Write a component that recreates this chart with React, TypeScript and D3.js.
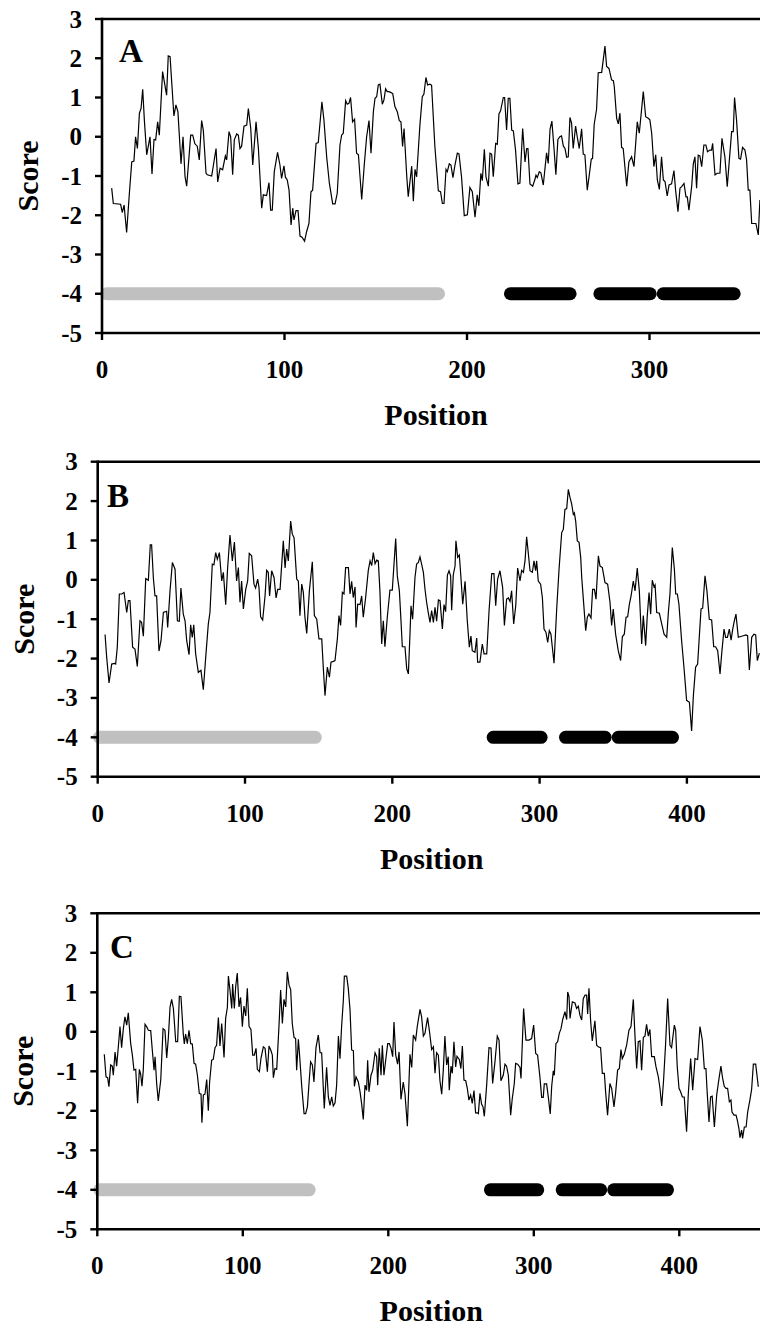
import React from "react";
import * as d3 from "d3";

// ---------- Panel A ----------
const posA = [5.3,6.2,10.2,11.1,12.1,13.5,15,16.3,17.5,18.4,19.4,20.5,21.4,22.3,23.2,24.5,26.3,27.4,28.5,29.4,30.5,31.4,33.2,35.4,36.3,37.3,39.4,40.5,41.6,43.3,44.4,45.5,46.4,48.6,49.7,50.9,52.2,53.3,54.6,55.5,57,57.7,60.1,62.5,63.4,64.7,66.1,67.6,68.3,69.6,70.5,71.6,72.5,73.8,74.7,75.6,76.5,77.8,79.3,80.2,81.5,82.6,84.4,85.7,87.5,88.4,90.2,91.5,92.4,93.3,94.4,96.2,97.5,98.4,99.7,100.5,101.5,102.5,103.6,104.5,105.2,106.3,107.4,108.5,109.6,111,112.1,113.4,114.5,115.4,117.3,118.5,120.5,121.6,123.1,124.6,126.4,127.7,128.9,130.4,131.3,132.2,133.5,134.4,135.3,136.2,137.3,138.4,139.5,140.5,142.3,143.7,145,146.3,147.4,148.7,149.6,150.5,151.4,152.3,153.6,154.5,155.4,156.3,157.1,158.2,159.3,160.5,161.8,162.9,163.8,164.7,165.5,167,167.8,169.7,170.6,171.5,172.4,174.2,175.5,176.4,177.5,178.4,179.7,180.6,182.4,184.3,185.5,186.5,187.4,188.5,189.2,190.3,191.2,192.3,193.4,194.7,195.6,197,198.5,200.2,201.6,202.9,204.4,205.6,206.5,207.6,208.4,209.5,210.4,211.7,212.6,213.5,214.4,215.7,216.6,217.5,218.4,219.9,220.6,221.7,222.6,223.5,224.5,225.4,226.6,227.9,229,230.5,231.8,232.7,233.4,234.5,236,237.2,237.8,238.5,239.6,240.5,241.8,243.6,244.5,245.5,246.5,247.6,248.7,249.8,250.9,251.8,252.8,253.7,254.6,255.5,256.4,257.3,258.2,259.5,260.4,261.5,262.8,263.7,264.6,265.9,267,268.1,268.8,269.7,271,271.9,273.8,275.6,276.5,277.8,279.2,280.2,280.7,282,282.9,283.8,284.7,285.6,287.5,288.7,290.2,291.5,293.3,294.4,296.6,297.9,299.3,300.2,301.2,302.4,303.4,304.3,305.4,306.6,307.6,308.5,309.7,310.7,312.1,313.4,314.3,315.6,316.7,317.6,318.9,320,320.7,321.6,323.1,324,324.9,325.8,326.7,327.6,328.6,329.8,330.9,331.8,333.1,334,334.6,335.9,337.1,338.6,339.7,341.3,342.6,345,345.9,346.6,347.7,349,349.9,351,352.3,353.2,354.1,355,356,358.3,359.6,360.5];
const scoreA = [-1.31,-1.7,-1.72,-1.93,-1.74,-2.44,-1.44,-0.64,-0.62,0,-0.3,0.6,0.72,1.21,0.43,-0.46,0,-0.95,-0.07,-0.08,0.38,0.04,1.66,1.06,2.06,2.04,0.53,0.81,0.64,-0.69,0,-1.02,-1.26,0.04,0.04,-0.18,-0.24,-0.59,0.41,0.17,-0.93,-0.97,-1,-0.3,-1.15,-0.8,-0.84,-0.49,-0.59,0.13,0,-0.97,-0.08,0.07,0.04,-0.3,-0.24,0.27,0.3,0.72,0.21,-0.72,0.38,-0.3,-1.82,-1.48,-1.5,-1.17,-1.87,-1.87,-0.89,-0.4,-0.72,-1.06,-0.74,-1.03,-1.1,-1.36,-2.25,-1.82,-2.12,-1.88,-1.88,-2.53,-2.56,-2.66,-2.42,-2.21,-1.4,-1.36,-0.17,-0.15,0.89,0.43,-0.51,-1.19,-1.71,-1.71,-1.44,-0.21,0.04,0.09,0.92,0.83,0.85,1,0.38,0.45,-0.42,-0.46,-1.6,-0.72,0,0.41,-0.42,0.64,0.98,1.02,1.32,1.34,0.83,0.94,1.22,1.15,1.15,1.13,1.1,0.77,0.64,0.41,0.38,-0.25,0.21,-1.02,-1.53,-0.75,-1.64,-0.83,-1.02,0.3,1.02,1.09,1.51,1.32,1.34,1.31,-0.25,-1.38,-1.4,-1.7,-1.7,-0.83,-0.89,-0.69,-0.72,-1.04,-0.72,-0.42,-0.44,-1.02,-2.01,-1.99,-1.29,-1.4,-2.05,-1.48,-1.76,-0.93,-1.12,-0.32,-1.02,-1.26,-0.42,-0.44,-1.02,-0.17,-0.19,0.58,0.66,1,1,0.17,0.98,0.98,0.17,0.15,-0.34,-1.2,-1.18,0.21,-0.64,-0.3,-0.3,-1.2,-1.26,-1.09,-0.98,-1.04,-0.89,-0.92,-1.23,-0.41,-0.68,0.19,0.4,-0.25,-0.97,-0.07,0,0.02,-0.24,-0.3,-0.52,-0.51,0.49,0.35,-0.3,0.27,0,-0.3,0.2,-0.44,-0.46,-1.36,-0.97,-0.57,-0.55,0.32,0.7,1.63,1.64,2.31,1.79,1.74,1.45,1.43,1.28,0.47,0.33,0.6,-0.27,-0.3,-1.26,-0.64,-0.51,-0.76,0.38,0.09,1.15,0.51,0.47,0.43,0.09,-0.76,-0.46,-1.1,-1.34,-0.51,-1.1,-1.14,-1.51,-1.23,-1.2,-0.86,-1.36,-1.91,-1.31,-1.27,-1.19,-1.53,-1.53,-1.87,-1.27,-0.69,-0.51,-1.31,-0.47,-0.49,-0.76,-0.21,-0.21,-0.38,-0.34,-0.34,-0.17,-0.97,-0.93,-0.93,-0.04,-0.51,-1.27,0.13,0.13,1,0.43,-0.55,-0.57,-0.27,-0.34,-0.59,-1.36,-1.36,-2.21,-2.21,-2.5,-1.61];
const greyA = [[2.5, 184.4]];
const blackA = [[223.8, 256.5], [272.8, 300.4], [307.5, 346.4]];

// ---------- Panel B ----------
const posB = [5,6.1,7.7,9.5,11.3,12.2,13.3,14.7,16.3,17.9,19.7,20.8,21.9,23.7,25.3,26.9,28.7,29.8,31,32.6,34.4,35.7,36.6,37.8,38.9,40,41.6,43,44.6,45.7,46.8,47.5,49.1,50.7,52.5,54.1,55.4,56.5,58.1,59.3,60.4,62,63.1,64.2,65.2,66.5,68.3,70.1,71.7,73.5,75.1,76.2,77.8,78.9,80.1,81.2,82.6,84.2,85.3,86.9,88.2,89.8,91.4,92.8,94.3,95.5,96.6,97.7,98.9,100.5,101.8,102.9,104.5,106.1,107.2,108.6,109.5,110.6,112,113.6,114.7,115.8,116.7,118.1,119.7,121.1,122.2,123.8,126,127.2,128.3,129.4,131,132.1,133.3,135.1,136.2,137.3,138.5,139.6,140.7,141.9,143.7,145.7,147.1,148.7,150.2,152.1,153.2,154.3,155.9,157.3,158.4,160,161.1,162.7,163.8,164.9,166.1,167.2,168.3,170.2,171.3,172.4,173.5,174.7,175.4,176.5,178.1,179.2,180.3,181.9,183.7,184.9,186,187.1,188.3,189.4,190.5,191.6,192.8,193.9,195,196.6,198.4,200,202.3,203.4,204.8,205.9,206.8,208.6,209.8,210.9,212,212.7,213.8,215.4,216.5,217.7,218.8,219.9,221.1,222.2,223.3,224.5,225.6,226.7,227.9,229,230.1,231.3,232.4,234,235.1,236.2,237.4,238.5,239.6,240.3,241.4,242.6,243.2,244.4,245.5,246.6,247.8,249.4,250.9,252.3,253.4,254.3,256.1,257.3,257.9,259.5,261.1,262.3,264.1,265.7,267.5,269,270.2,271.5,273.1,274.9,276.1,277.6,278.8,279.9,281,282.4,283.8,285.1,286.7,287.8,289,290.1,291.2,292.4,293.5,295.1,296.2,297.3,298,299.1,300.7,301.9,303,304.3,305.5,306.6,307.7,309.8,311.6,313.2,315,316.1,317.2,318.4,319.5,320.6,321.8,322.9,323.6,324.5,325.6,326.8,327.9,328.6,329.7,331.3,332.4,333.5,334.9,336,337.2,338.3,339.9,341,342.6,344.4,346.2,347.8,348.9,350,351.6,353.4,355,356.2,357.5,358.7,359.8,360.9,362.1,363.6,364.8,366.3,367.7,369.3,370.4,372,373.1,374.3,375.4,376.5,377.7,378.4,379.5,381.3,382.9,384.5,386.3,387.4,388.5,390.1,391.5,392.4,393.5,394.6,396.4,398,399.8,401.7,403.2,404.4,405.9,407.3,408.4,409.6,410.7,412.3,413.6,415.2,416.8,418.2,419.5,420.9,422.5,423.6,425.2,426.3,427.5,428.8,430,431.1,432.2,433.3,434.9,436.5,438.3,440,441.2,442.4,444,445.5,446.7,447.8,449.2];
const scoreB = [-1.39,-1.97,-2.62,-2.14,-2.12,-2.14,-1.71,-0.36,-0.36,-0.32,-0.83,-0.53,-0.53,-1.71,-1.76,-2.2,-1.04,-1.08,-1.43,0.03,-0.01,0.89,0.89,0.04,-0.41,-0.41,-1.81,-1.54,-0.83,-0.81,-0.8,-1.21,-0.28,0.44,0.27,-1.04,-1.05,-0.21,-0.87,-1.04,-1.54,-1.9,-1.14,-1.46,-1.14,-1.88,-2.35,-2.3,-2.79,-1.88,-1.12,-0.83,0.4,0.38,0.69,0.52,0.69,-0.03,0.19,-0.63,0.3,1.14,0.48,0.96,-0.03,0.31,-0.57,-0.03,-0.74,-0.24,-0.03,0.67,0.61,-0.11,-0.21,0.02,-0.19,-0.94,-1.02,-0.41,0.24,0.19,-0.41,0.23,0.06,-0.46,-0.24,-0.24,0.99,0.3,0.78,0.48,1.49,1.16,1.07,0.02,-0.03,-0.91,-0.11,-0.32,-0.95,-1.36,-0.28,0.46,-0.91,-1,-1.5,-1.5,-2.26,-2.94,-2.22,-2.47,-2.09,-2.07,-2.05,-1.5,-0.91,-1.16,-0.32,-0.36,0.31,0.31,-0.36,-0.04,-0.45,-0.18,-1.21,-0.62,-0.63,-0.41,-0.95,-0.45,0.24,0.48,0.36,0.69,0.41,0.5,0.48,-0.28,-1.63,-1.04,-1.7,-0.95,-0.26,-0.26,1.05,0.1,-0.28,-1.04,-1.7,-1.7,-2.26,-2.39,-1.38,-0.66,-1,0.06,0.4,0.44,0.58,0.4,0.19,-0.24,-0.57,-0.85,-1.08,-0.78,-1.08,-0.7,-1.05,-0.51,-0.53,-1.25,-0.63,-0.81,0.12,0.23,0.1,-0.77,0.13,0.35,0.99,0.57,0.63,0.06,-0.62,-0.04,-1.04,-1.71,-1.43,-1.8,-1.84,-1.48,-2.09,-2.09,-1.63,-1.88,-1.88,-0.78,0.16,0.16,-0.66,0.02,0.23,-0.19,-1.16,-0.49,-0.46,-0.55,-0.28,-1.12,-0.66,0.3,-0.03,0.24,0.19,0.48,1.09,0.65,0.23,0.19,0.48,0.23,0.48,-0.03,-0.11,-0.46,-1.25,-1.33,-1.59,-1.29,-1.38,-2.12,-0.74,0.27,1.2,1.28,1.79,1.81,2.3,2.1,1.92,1.66,1.7,1.49,0.99,0.95,0.57,0.06,-0.49,-1.29,-0.95,-0.87,-0.97,-0.24,-0.24,-0.49,0.61,0.35,0.31,-0.07,-0.11,-0.57,-1.16,-0.74,-1.38,-1.8,-2.05,-1.44,-1.38,-0.95,-0.94,-0.63,-0.41,-0.03,-0.28,0.3,-0.28,-1.63,-0.91,-1.67,-0.91,-0.32,-0.87,-0.01,-0.18,-0.13,-0.83,-0.85,-1.12,-1.38,-1.46,-0.83,-0.36,0.82,0.27,-0.36,-0.36,-0.62,-1.54,-2.22,-3.06,-3.11,-3.84,-2.94,-2.22,-2.14,-1.46,-0.74,-0.72,0.1,-0.28,-1,-1.02,-1.7,-1.7,-1.8,-2.39,-1.88,-1.25,-1.46,-1.46,-1.25,-1.53,-1.25,-1.04,-0.87,-1.46,-1.44,-1.42,-1.4,-1.42,-2.29,-1.46,-1.38,-1.4,-2.05,-1.86];
const greyB = [[1.2, 147.7]];
const blackB = [[268.5, 301], [317.6, 344.5], [353.4, 390.2]];

// ---------- Panel C ----------
const posC = [4.8,6,7.1,8,9.2,10.3,11,12.2,13.3,14.5,15.6,16.7,17.9,19,20.2,21.3,22.9,24.1,25.2,26.4,27.7,28.9,29.8,30.7,31.6,32.8,33.9,35.1,36.7,37.8,39,39.7,40.8,41.9,43.6,45.2,46.5,47.7,48.8,50,51.1,52.3,53.9,55.2,56.4,57.5,59.1,59.8,60.7,61.9,63,64.2,65.3,66.5,67.6,68.8,70.1,71.3,71.9,72.9,74,75.2,76.3,77.2,78.6,79.7,80.9,82,83.2,84.3,85.5,87.1,88.2,89.4,90.1,91.2,92.4,93,94.2,95.1,96.2,97.4,98.5,99.7,100.8,102,103.1,104.3,105.6,106.8,107.9,109.1,110,111.4,112.5,114.1,115.3,116.9,118,119.4,120.3,121,122.1,123.3,124.9,126,127.2,128.3,129.5,130.6,131.8,132.9,134,135.2,136.3,137,138.2,139.1,140.5,142.1,143.2,144.4,145.5,146.6,147.8,148.9,150.3,151.9,153.1,154.2,156,157.6,158.8,159.9,161.1,162.2,163.4,164.5,165.7,166.8,167.9,169.1,169.8,171.4,172.5,173.7,174.8,176,176.7,177.8,179.4,180.6,181.7,182.8,184,185.1,185.8,186.7,188.1,189.3,190.9,192,192.7,193.8,195,195.9,197,198.2,199.6,200.7,201.9,203,203.9,205.1,206.4,207.4,208.7,210.3,211.5,213.1,214.9,216.1,217.2,218.8,219.9,221.8,222.9,224.1,225.2,227,228.2,229.8,231,232.1,233.2,234.4,235.5,236.7,237.8,238.9,240.1,241.2,241.9,243.1,244,245.1,246.3,247.2,248.8,249.9,250.9,252,253.2,254.3,255.4,256.6,257.7,258.9,260,261.2,261.9,263,264.1,265.1,266,267.6,269.2,270.6,271.7,273.3,274.9,276.1,277.4,279,280.2,281.3,282.5,284.1,285.2,286.6,287.5,288.9,290.5,291.2,293,294.6,296.7,298.5,299.9,301.3,302.6,304.2,305.4,306.5,307.2,308.8,310,311.3,312.3,313.4,314.1,315.2,316.4,317.5,318.7,319.8,321.4,322.6,323.3,324.2,324.9,326.5,328.3,329.4,330.6,331.7,332.9,334,335.2,336.3,337,337.9,339.1,340.2,342,343.2,344.3,345.9,347.1,348.5,349.4,350.7,352.3,353.5,355.1,356.2,357.6,358.8,359.9,360.8,362.2,363.8,365.4,366.8,368.4,369.5,370.7,371.8,373,374.1,375.3,376.4,377.5,378.7,379.8,381,382.8,384,385.6,386.7,387.9,389.2,390.6,392,393.6,394.7,396.6,397.5,398.6,399.8,400.9,402.1,403.4,405,406.2,407.8,409.2,410.8,412.6,414.2,415.8,417.2,418.3,419,420.4,421.5,422.6,424.1,425.7,427.3,428.6,429.8,430.9,432.1,433.2,434.4,435.5,436.2,437.6,439,439.9,441,441.7,442.8,443.5,444.7,445.9,447,448.6,449.7,450.9,452.5,454.3];
const scoreC = [-0.57,-1.14,-1.16,-1.39,-0.84,-0.87,-1.1,-0.51,-0.87,-0.36,0.13,-0.4,0.08,0.38,0.17,0.48,-0.28,-0.59,-0.97,-0.95,-1.81,-0.95,-1.07,-1.38,-0.97,0.19,0.13,0.04,0.03,-0.46,-0.97,-0.63,-1.31,-1.75,-1.22,0.08,0.04,-0.66,-0.17,0.63,0.82,0.59,-0.25,-0.25,0.9,0.89,-0.06,-0.31,-0.06,-0.3,0.04,-0.3,-0.31,-0.8,-0.82,-1.1,-1.56,-1.58,-2.3,-1.6,-1.58,-1.21,-2,-1.27,-0.72,-0.7,-0.4,-0.34,0.36,-0.36,0.21,-0.65,0.34,0.62,1.41,1.05,0.59,1.21,0.59,1.14,1.49,0.63,0.87,0.13,0.65,0.4,1.1,0.14,0.06,-0.59,-0.59,-0.42,-0.95,-1.01,-0.67,-0.38,-0.42,-1.01,-0.36,-0.48,-0.59,-1.16,-0.93,-0.95,0.17,1.06,0.21,0.82,0.63,1.52,1.18,1.07,0.21,-0.14,-0.17,-0.97,-0.19,-0.63,-1.38,-2.07,-2.07,-1.9,-1.31,-0.76,-0.84,-1.27,-0.4,-0.08,-0.53,-0.53,-1.94,-0.9,-1.65,-1.86,-1.65,-1.88,-1.8,-1.35,-0.11,-0.68,0.13,0.8,1.41,1.41,1.1,0.55,-0.46,-0.48,-1.38,-1.14,-1.27,-1.52,-1.83,-2.22,-1.35,-1.48,-0.72,-1.52,-1.1,-0.97,-0.53,-0.63,-1.35,-0.42,-1.1,-0.34,-1.1,-0.72,-0.3,-0.3,-0.42,-0.63,0.25,-0.59,-0.82,-0.51,-1.71,-1.27,-1.58,-2.39,-0.57,-0.9,-0.08,-0.21,0.13,0.57,0.38,-0.11,-0.04,0.36,0.04,-0.45,-0.38,-1.05,-0.53,-0.59,-1.24,-1.58,-0.97,-0.11,-0.84,-0.63,-1.48,-0.87,-1.05,-0.25,-0.89,-0.62,-0.7,-0.93,-0.36,-1.22,-1.24,-1.43,-1.73,-1.6,-1.81,-1.49,-2.05,-2.05,-2.07,-1.56,-1.83,-1.9,-2.14,-1.35,-0.4,-0.41,-1.31,-0.76,-0.11,-0.21,-1.24,-1.1,-0.82,-0.87,-1.1,-2.11,-1.69,-1.31,-0.8,-0.82,-0.9,-1.18,0.59,-0.21,-0.21,-0.17,0.17,-0.55,-0.59,-1.14,-1.66,-1.66,-1.32,-1.32,-1.66,-2.08,-1.38,-0.99,-1.1,-0.3,-0.25,-0.04,0.08,0.3,0.51,0.31,1.01,0.89,0.34,0.76,0.73,0.59,0.65,0.42,0.3,0.84,0.93,0.93,0.45,1.1,0.25,-0.23,0.28,-0.34,-0.38,-0.4,-1.05,-1.05,-1.54,-2.11,-1.31,-1.43,-1.9,-1.56,-0.97,-0.93,-0.45,-0.68,-0.57,-0.34,0.04,0.13,0.82,-0.08,-0.93,-0.25,-0.23,-0.97,-0.14,-0.11,0.19,-0.11,0.06,-0.63,-0.63,-0.89,-1.14,-1.43,-1.88,-1.22,-0.3,0.84,-0.34,-0.4,0.17,0.04,-0.89,-1.43,-1.52,-1.65,-1.65,-2.53,-1.56,-0.68,-1.48,-0.68,-0.7,0.13,-0.21,-0.93,-0.93,-1.43,-2.28,-1.65,-1.63,-2.41,-1.6,-1.18,-0.87,-1.18,-1.38,-1.43,-1.43,-1.77,-1.73,-2.03,-2.11,-2.11,-2.24,-2.45,-2.68,-2.49,-2.7,-2.41,-2.41,-2.03,-1.71,-1.46,-0.82,-0.82,-1.39];
const greyC = [[1.7, 145.6]];
const blackC = [[270.2, 302.7], [319.5, 346], [354.9, 391.9]];

const yTicks = [-5, -4, -3, -2, -1, 0, 1, 2, 3];
const xTicksA = [0, 100, 200, 300];
const xTicksBC = [0, 100, 200, 300, 400];
const panelLabels = ["A", "B", "C"];
const xTitle = "Position";
const yTitle = "Score";

const W = 760;
const H = 1326;
const FONT = "'Liberation Serif', 'Times New Roman', Times, serif";

const layouts = [
  { left: 102, top: 19, bottom: 333, ppu: 1.825, letterX: 119, letterY: 62, pos: posA, score: scoreA, grey: greyA, black: blackA, xTicks: xTicksA },
  { left: 97.7, top: 461.7, bottom: 776.7, ppu: 1.473, letterX: 107, letterY: 506.5, pos: posB, score: scoreB, grey: greyB, black: blackB, xTicks: xTicksBC },
  { left: 97.3, top: 913.3, bottom: 1229.3, ppu: 1.455, letterX: 110, letterY: 958, pos: posC, score: scoreC, grey: greyC, black: blackC, xTicks: xTicksBC },
];

function Panel({ cfg, label, idx }: any) {
  const x = d3.scaleLinear().domain([0, 100]).range([cfg.left, cfg.left + 100 * cfg.ppu]);
  const y = d3.scaleLinear().domain([-5, 3]).range([cfg.bottom, cfg.top]);
  const pts: [number, number][] = cfg.pos.map((p: number, i: number) => [p, cfg.score[i]]);
  const line = d3.line<[number, number]>().x((d) => x(d[0])).y((d) => y(d[1]));
  const clipId = `clip${idx}`;
  const axisW = 2.6;
  const midY = (cfg.top + cfg.bottom) / 2;
  const midX = cfg.left + 334;
  return (
    <g>
      <defs>
        <clipPath id={clipId}>
          <rect x={cfg.left - 10} y={cfg.top} width={W - cfg.left + 20} height={cfg.bottom - cfg.top} />
        </clipPath>
      </defs>
      <g clipPath={`url(#${clipId})`}>
        {cfg.grey.map((s: number[], i: number) => (
          <line key={"g" + i} x1={x(s[0])} x2={x(s[1])} y1={y(-4)} y2={y(-4)} stroke="#c0c0c0" strokeWidth={13} strokeLinecap="round" />
        ))}
        {cfg.black.map((s: number[], i: number) => (
          <line key={"b" + i} x1={x(s[0])} x2={x(s[1])} y1={y(-4)} y2={y(-4)} stroke="#000" strokeWidth={13} strokeLinecap="round" />
        ))}
        <path d={line(pts) || ""} fill="none" stroke="#000" strokeWidth={1.2} strokeLinejoin="miter" />
      </g>
      <line x1={cfg.left} x2={W + 5} y1={cfg.top} y2={cfg.top} stroke="#000" strokeWidth={axisW} />
      <line x1={cfg.left} x2={W + 5} y1={cfg.bottom} y2={cfg.bottom} stroke="#000" strokeWidth={axisW} />
      <line x1={cfg.left} x2={cfg.left} y1={cfg.top - axisW / 2} y2={cfg.bottom + axisW / 2} stroke="#000" strokeWidth={axisW} />
      {yTicks.map((t) => (
        <g key={"y" + t}>
          <line x1={cfg.left - 7} x2={cfg.left} y1={y(t)} y2={y(t)} stroke="#000" strokeWidth={2.4} />
          <text x={cfg.left - 20} y={y(t)} dy="0.34em" textAnchor="end" fontFamily={FONT} fontWeight="bold" fontSize={25}>
            {String(t)}
          </text>
        </g>
      ))}
      {cfg.xTicks.map((t: number) => (
        <g key={"x" + t}>
          <line x1={x(t)} x2={x(t)} y1={cfg.bottom} y2={cfg.bottom + 7} stroke="#000" strokeWidth={2.4} />
          <text x={x(t)} y={cfg.bottom + 45} textAnchor="middle" fontFamily={FONT} fontWeight="bold" fontSize={25}>
            {String(t)}
          </text>
        </g>
      ))}
      <text x={cfg.letterX} y={cfg.letterY} fontFamily={FONT} fontWeight="bold" fontSize={33}>
        {label}
      </text>
      <text transform={`translate(${cfg.left - 64},${midY}) rotate(-90)`} textAnchor="middle" fontFamily={FONT} fontWeight="bold" fontSize={30}>
        {yTitle}
      </text>
      <text x={midX} y={cfg.bottom + 92} textAnchor="middle" fontFamily={FONT} fontWeight="bold" fontSize={30}>
        {xTitle}
      </text>
    </g>
  );
}

export default function App() {
  return (
    <svg width={W} height={H} viewBox={`0 0 ${W} ${H}`} style={{ position: "absolute", left: 0, top: 0, background: "#fff" }}>
      <rect x={0} y={0} width={W} height={H} fill="#fff" />
      {layouts.map((cfg, i) => (
        <Panel key={i} cfg={cfg} label={panelLabels[i]} idx={i} />
      ))}
    </svg>
  );
}
